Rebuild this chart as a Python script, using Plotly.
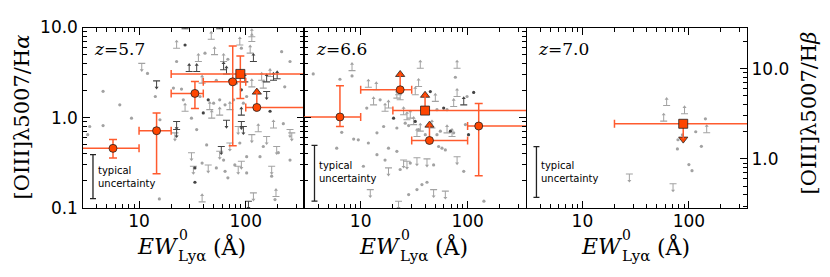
import plotly.graph_objects as go

# ---------------- data ----------------
# panel 1 (z=5.7): gray literature points; kind d=detection, u=upper limit, l=lower limit; shade L/D
p1_ew = [27, 57, 47.5, 27, 22.5, 41.5, 51, 36, 62, 68, 88, 91, 114, 114, 110, 118, 217, 260, 22.5, 10.6,
         14.6, 12.0, 4.6, 14.2, 21, 25, 29.5, 34.7, 39, 53, 62, 66, 71, 82, 91, 98, 102, 114, 141, 146,
         157, 169, 182, 197, 157, 232, 26, 27, 37.3, 44.5, 50, 57, 64, 77, 95, 6.6, 8.5, 4.6, 3.45, 15.7,
         22.5, 22.5, 21.7, 31, 34.7, 40, 46, 48, 57, 66, 71, 91, 91, 95, 85, 114, 131, 157, 182, 225,
         260, 270, 169, 43, 59, 57, 71, 88, 146, 195, 260, 62, 39, 44.5, 31, 32.3, 91, 79, 102, 136,
         202, 33.4, 33.4, 53, 64, 85, 68, 102, 175, 175, 118, 106, 188, 15.5, 39, 192, 3.3]
p1_ratio = [9.7, 9.7, 7.4, 6.4, 5.9, 5.2, 5.0, 4.2, 4.2, 4.45, 6.4, 5.9, 7.9, 7.0, 5.2, 4.2, 5.4, 4.2, 4.2, 4.0,
            2.56, 3.1, 1.96, 1.72, 2.13, 2.08, 3.25, 3.25, 2.42, 2.6, 3.4, 3.05, 2.6, 2.42, 2.04, 2.5, 1.72, 2.2, 2.6, 2.13,
            2.5, 2.86, 2.6, 2.7, 1.95, 2.2, 1.58, 1.18, 1.72, 1.58, 1.45, 1.58, 1.39, 1.58, 1.45, 1.39, 0.99, 0.82, 0.80, 0.95,
            0.91, 0.74, 0.68, 0.99, 0.74, 1.13, 1.23, 0.99, 1.07, 0.94, 1.23, 1.07, 0.91, 0.80, 0.80, 0.65, 0.70, 0.62, 0.77, 0.86,
            0.74, 0.68, 1.18, 0.50, 0.48, 0.425, 0.525, 0.525, 0.48, 0.48, 0.34, 0.34, 0.315, 0.30, 0.41, 0.29, 0.33, 0.30, 0.37, 0.37,
            0.41, 0.278, 0.193, 0.278, 0.255, 0.29, 0.216, 0.245, 0.29, 0.225, 0.147, 0.119, 0.124, 0.126, 0.117, 0.134, 0.65]
p1_kind = list("llldldllldldlllldddu" "udddddllldlldddldlll" "lllluddlddddddddddd" "d" "uuudddlllulluuuululdu"
               "udduuudduddduuuuddd" "ddddduddud" "uuddlld" "uddd")
p1_shade = list("DDLDLLLLLLLLLLLDLLLL" "DLLLLLDDLLDDDLDDLLLL" "DLDDDLLLLDLLLLLLLLLL" "DDLLLDLLLDLDDDLLLLLL"
                "LLDLDLLLLLLLLLLLLLLL" "LDDLLLLLLLLDLLLLL")

# panel 2 (z=6.6)
p2_ew = [3.6, 6.4, 8.3, 8.3, 11.8, 14.0, 13.2, 15.2, 18.2, 21.8, 22.6, 23.4, 32.4, 34.8, 36.1, 44.8, 49.9, 51.7, 59.7, 64.2,
         74.1, 79.7, 79.7, 76.8, 92, 98.8, 114, 11.4, 16.9, 20.3, 25.2, 27.1, 29.1, 26.1, 28.1, 31.3, 32.4, 34.8, 33.6, 36.1,
         40.2, 46.4, 51.7, 55.6, 64.2, 69, 71.5, 74.1, 95.4, 102, 21.8, 16.4, 14.2, 11.8, 8.6, 9.5, 6.65, 53.6, 57.6, 61.9,
         5.97, 14.2, 18.2, 21.8, 16.9, 25.2, 27.1, 29.1, 23.4, 18.2, 33.6, 41.7, 48.1, 10.6, 92, 79.7, 12.3, 28.1, 41.7, 37.4,
         33.6, 22.6, 48.1, 61.9, 142]
p2_ratio = [3.06, 2.67, 3.33, 2.91, 2.18, 2.04, 1.39, 1.58, 1.28, 1.65, 1.80, 1.58, 1.80, 2.22, 3.54, 1.95, 1.52, 1.23, 1.28, 1.23,
            1.33, 1.72, 3.54, 2.81, 1.39, 1.72, 1.91, 1.28, 1.18, 0.99, 1.08, 0.95, 0.99, 0.87, 0.82, 0.84, 0.91, 0.74, 0.62, 0.71,
            0.65, 0.77, 0.65, 0.71, 0.68, 0.71, 0.62, 0.68, 0.84, 0.65, 0.77, 0.80, 0.68, 0.525, 0.58, 0.57, 0.69, 0.48, 0.46, 0.44,
            0.46, 0.39, 0.46, 0.425, 0.34, 0.34, 0.33, 0.315, 0.267, 0.278, 0.36, 0.35, 0.30, 0.29, 0.255, 0.37, 0.16, 0.141, 0.193, 0.182,
            0.16, 0.119, 0.16, 0.154, 0.119]
p2_kind = list("ddldllldllllllldlddd" "llldldddldlllddlddll" "dlddldlddddddddddddd" "ddddduudduuuddduuddd" "duuud")
p2_shade = list("LLLLLLLLLLLLLLLDLLDL" "LLLLDLDLLDLLLLLLDLLL" "LLLLLDLLLDLLLLLLLLLL" "LLLLLLLLLLLLLLLLLLLL" "LLLLL")

# panel 3 (z=7.0), ratio in [OIII]/Hbeta units
p3_ew = [61.8, 91, 58, 143, 147, 116, 87, 79, 78, 131, 100, 107, 27.6, 71]
p3_ratio = [3.9, 3.16, 2.62, 2.78, 1.95, 2.0, 1.85, 1.63, 1.29, 1.38, 0.865, 0.74, 0.68, 0.53]
p3_kind = list("llldlddddddduu")
p3_shade = list("LLLLLLLLLLLLLL")

# orange stacked measurements: detections
o1_ew = [5.7, 14.6, 33.4, 75.5]
o1_ratio = [0.458, 0.718, 1.86, 2.5]
o1_ew_lo = [1.0, 10, 20, 40]
o1_ew_hi = [10, 20, 40, 100]
o1_ratio_lo = [0.359, 0.24, 1.27, 0.49]
o1_ratio_hi = [0.575, 1.13, 2.52, 6.25]
o1_sq = dict(ew=89, ratio=3.06, ew_lo=20, ew_hi=600, ratio_lo=1.63, ratio_hi=4.84)
o1_lim_ew = [127]
o1_lim_ratio = [1.30]
o1_lim_ew_lo = [100]
o1_lim_ew_hi = [600]

o2_ew = [6.4, 127]
o2_ratio = [1.02, 0.81]
o2_ew_lo = [1.0, 100]
o2_ew_hi = [10, 600]
o2_ratio_lo = [0.80, 0.227]
o2_ratio_hi = [2.26, 1.44]
o2_lim_ew = [23.4, 44]
o2_lim_ratio = [2.04, 0.56]
o2_lim_ew_lo = [10, 30]
o2_lim_ew_hi = [30, 100]
o2_sq = dict(ew=40, ratio=1.2, ew_lo=20, ew_hi=600)   # lower limit

o3_sq = dict(ew=88.5, ratio=2.45, ew_lo=20, ew_hi=600)  # upper limit, Hbeta units

# typical uncertainty bars
typ_ew = [3.7, 3.7, 3.7]
typ_lo = [0.127, 0.119, 0.375]
typ_hi = [0.39, 0.494, 1.37]

# ---------------- style ----------------
LIGHT = '#a2a2a2'
DARK = '#444444'
OR_FACE = '#ff4500'
OR_BAR = '#ff5b2e'
G_DEX = 0.075
O_DEX = 0.17

fig = go.Figure()


def add_gray(ew, ratio, kind, shade, xa, ya):
    for sh, col in (('L', LIGHT), ('D', DARK)):
        dx = [ew[i] for i in range(len(ew)) if kind[i] == 'd' and shade[i] == sh]
        dy = [ratio[i] for i in range(len(ew)) if kind[i] == 'd' and shade[i] == sh]
        if dx:
            fig.add_trace(go.Scatter(x=dx, y=dy, mode='markers', xaxis=xa, yaxis=ya,
                                     marker=dict(size=3.2, color=col, line=dict(width=0))))
        for k, sgn, tri in (('u', -1, 'triangle-down'), ('l', 1, 'triangle-up')):
            lx = [ew[i] for i in range(len(ew)) if kind[i] == k and shade[i] == sh]
            ly = [ratio[i] for i in range(len(ew)) if kind[i] == k and shade[i] == sh]
            if not lx:
                continue
            tip = [v * 10 ** (sgn * G_DEX) for v in ly]
            stem = [abs(t - v) for t, v in zip(tip, ly)]
            zero = [0] * len(ly)
            fig.add_trace(go.Scatter(
                x=lx, y=ly, mode='markers', xaxis=xa, yaxis=ya,
                marker=dict(symbol='line-ew', size=5, line=dict(width=1.1, color=col)),
                error_y=dict(type='data', symmetric=False,
                             array=stem if sgn > 0 else zero,
                             arrayminus=zero if sgn > 0 else stem,
                             width=0, thickness=1, color=col)))
            fig.add_trace(go.Scatter(x=lx, y=tip, mode='markers', xaxis=xa, yaxis=ya,
                                     marker=dict(symbol=tri, size=3.5, color=col, line=dict(width=0))))


add_gray(p1_ew, p1_ratio, p1_kind, p1_shade, 'x', 'y')
add_gray(p2_ew, p2_ratio, p2_kind, p2_shade, 'x2', 'y2')
add_gray(p3_ew, p3_ratio, p3_kind, p3_shade, 'x3', 'y4')

# typical uncertainty
for j, (xa, ya) in enumerate((('x', 'y'), ('x2', 'y2'), ('x3', 'y4'))):
    mid = (typ_lo[j] * typ_hi[j]) ** 0.5
    fig.add_trace(go.Scatter(x=[typ_ew[j]], y=[mid], mode='markers', xaxis=xa, yaxis=ya,
                             marker=dict(size=1, opacity=0),
                             error_y=dict(type='data', symmetric=False, array=[typ_hi[j] - mid],
                                          arrayminus=[mid - typ_lo[j]], width=3, thickness=1.3,
                                          color='#222222')))


def orange(ew, ratio, ew_lo, ew_hi, r_lo, r_hi, xa, ya, symbol, size):
    ex = dict(type='data', symmetric=False, array=[h - v for h, v in zip(ew_hi, ew)],
              arrayminus=[v - l for v, l in zip(ew, ew_lo)], color=OR_BAR, thickness=1.5, width=4)
    ey = dict(type='data', symmetric=False, array=[h - v for h, v in zip(r_hi, ratio)],
              arrayminus=[v - l for v, l in zip(ratio, r_lo)], color=OR_BAR, thickness=1.5, width=4)
    fig.add_trace(go.Scatter(x=ew, y=ratio, mode='markers', xaxis=xa, yaxis=ya, error_x=ex, error_y=ey,
                             marker=dict(symbol=symbol, size=size, color=OR_FACE,
                                         line=dict(width=0.8, color='#222222'))))


def orange_limit(ew, ratio, ew_lo, ew_hi, xa, ya, symbol, size, direction):
    tip = [v * 10 ** (direction * O_DEX) for v in ratio]
    stem = [abs(t - v) for t, v in zip(tip, ratio)]
    zero = [0] * len(ratio)
    ey = dict(type='data', symmetric=False, array=stem if direction > 0 else zero,
              arrayminus=zero if direction > 0 else stem, color=OR_BAR, thickness=1.5, width=0)
    fig.add_trace(go.Scatter(x=ew, y=tip, mode='markers', xaxis=xa, yaxis=ya,
                             marker=dict(symbol='triangle-up' if direction > 0 else 'triangle-down',
                                         size=8, color=OR_FACE, line=dict(width=0.8, color='#222222'))))
    ex = dict(type='data', symmetric=False, array=[h - v for h, v in zip(ew_hi, ew)],
              arrayminus=[v - l for v, l in zip(ew, ew_lo)], color=OR_BAR, thickness=1.5, width=4)
    fig.add_trace(go.Scatter(x=ew, y=ratio, mode='markers', xaxis=xa, yaxis=ya, error_x=ex, error_y=ey,
                             marker=dict(symbol=symbol, size=size, color=OR_FACE,
                                         line=dict(width=0.8, color='#222222'))))


# panel 1
orange(o1_ew, o1_ratio, o1_ew_lo, o1_ew_hi, o1_ratio_lo, o1_ratio_hi, 'x', 'y', 'circle', 8)
orange([o1_sq['ew']], [o1_sq['ratio']], [o1_sq['ew_lo']], [o1_sq['ew_hi']],
       [o1_sq['ratio_lo']], [o1_sq['ratio_hi']], 'x', 'y', 'square', 9)
orange_limit(o1_lim_ew, o1_lim_ratio, o1_lim_ew_lo, o1_lim_ew_hi, 'x', 'y', 'circle', 8, 1)
# panel 2
orange(o2_ew, o2_ratio, o2_ew_lo, o2_ew_hi, o2_ratio_lo, o2_ratio_hi, 'x2', 'y2', 'circle', 8)
orange_limit(o2_lim_ew, o2_lim_ratio, o2_lim_ew_lo, o2_lim_ew_hi, 'x2', 'y2', 'circle', 8, 1)
orange_limit([o2_sq['ew']], [o2_sq['ratio']], [o2_sq['ew_lo']], [o2_sq['ew_hi']], 'x2', 'y2', 'square', 9, 1)
# panel 3
orange_limit([o3_sq['ew']], [o3_sq['ratio']], [o3_sq['ew_lo']], [o3_sq['ew_hi']], 'x3', 'y4', 'square', 9, -1)

# ---------------- axes ----------------
W, H = 830, 277
px = lambda v: v / W
py = lambda v: (H - v) / H

x_edges = [82.5, 304, 526, 747]
y_top, y_bot = 27.5, 208

tick_font = dict(family='DejaVu Sans', size=17, color='black')
x_minor = [3, 4, 5, 6, 7, 8, 9, 20, 30, 40, 50, 60, 70, 80, 90, 200, 300]
y_minor = [0.2, 0.3, 0.4, 0.5, 0.6, 0.7, 0.8, 0.9, 2, 3, 4, 5, 6, 7, 8, 9]
yb_minor = [0.3, 0.4, 0.5, 0.6, 0.7, 0.8, 0.9, 2, 3, 4, 5, 6, 7, 8, 9, 20]


def minor(vals):
    return dict(tickmode='array', tickvals=vals, ticks='inside', ticklen=4, tickwidth=1,
                tickcolor='black', showgrid=False)


common = dict(type='log', showgrid=False, zeroline=False, showline=True, linecolor='black', linewidth=1.3,
              ticks='inside', ticklen=7, tickwidth=1.1, tickcolor='black', tickfont=tick_font,
              automargin=False)

layout = dict(width=W, height=H, margin=dict(l=0, r=0, t=0, b=0, pad=0, autoexpand=False), showlegend=False,
              plot_bgcolor='white', paper_bgcolor='white')

ydom = [py(y_bot), py(y_top)]
for i in range(3):
    sfx = '' if i == 0 else str(i + 1)
    layout['xaxis' + sfx] = dict(common, domain=[px(x_edges[i]), px(x_edges[i + 1])], range=[0.47, 2.546],
                                 tickmode='array', tickvals=[10, 100], ticktext=['10', '100'],
                                 mirror='allticks', minor=minor(x_minor), ticklabelstandoff=-3,
                                 anchor='y' + sfx)
    layout['yaxis' + sfx] = dict(common, domain=ydom, range=[-1, 1],
                                 tickmode='array', tickvals=[0.1, 1, 10], ticktext=['0.1', '1.0', '10.0'],
                                 showticklabels=(i == 0), mirror=('allticks' if i < 2 else False),
                                 minor=minor(y_minor), anchor='x' + sfx)
layout['yaxis4'] = dict(common, overlaying='y3', side='right', anchor='x3', domain=ydom, range=[-0.544, 1.456],
                        tickmode='array', tickvals=[1, 10], ticktext=['1.0', '10.0'],
                        minor=minor(yb_minor))

ann = []
serif = 'DejaVu Serif'


def text(t, x, y, size, xanchor='center', yanchor='middle', angle=0, family=serif, align='center'):
    ann.append(dict(text=t, x=px(x), y=py(y), xref='paper', yref='paper', xanchor=xanchor, yanchor=yanchor,
                    textangle=angle, align=align, showarrow=False,
                    font=dict(family=family, size=size, color='black')))


text('[OIII]λ5007/H<i>α</i>', 21, 117.5, 21, angle=-90)
text('[OIII]λ5007/H<i>β</i>', 808, 113.5, 21, angle=-90)
for i, z in enumerate(['5.7', '6.6', '7.0']):
    cx = (x_edges[i] + x_edges[i + 1]) / 2
    text('<i>EW</i>', cx - 12, 246, 22, xanchor='right')
    text('0', cx - 16.5, 235, 14, xanchor='left')
    text('Lyα', cx - 17, 256, 15, xanchor='left')
    text('(Å)', cx + 18, 246, 22, xanchor='left')
    text('<i>z</i>=' + z, x_edges[i] + 9.5, 48.5, 17, xanchor='left')
typ_pos = [(96, 176.5), (317.3, 171.5), (539.3, 171.5)]
for (tx, ty) in typ_pos:
    text('typical<br>uncertainty', tx, ty, 10, xanchor='left', family='DejaVu Sans', align='left')
layout['annotations'] = ann

fig.update_layout(**layout)
fig.write_html('out.html', config={'displayModeBar': False},
               post_script="document.body.style.margin='0';document.body.style.overflow='hidden';")
